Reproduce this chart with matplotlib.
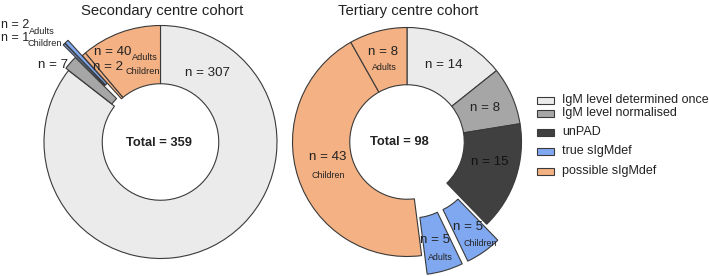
import matplotlib.pyplot as plt

plt.rcParams['font.family'] = ['Liberation Sans', 'DejaVu Sans']

# colours per category
cat_colors = {
    'once': '#ebebeb',
    'norm': '#a6a6a6',
    'unpad': '#404040',
    'true': '#80a8f0',
    'possible': '#f4b183',
}
legend_labels = ['IgM level determined once', 'IgM level normalised', 'unPAD',
                 'true sIgMdef', 'possible sIgMdef']
legend_keys = ['once', 'norm', 'unpad', 'true', 'possible']

# secondary centre cohort (clockwise from 12 o'clock)
sec_cats = ['once', 'norm', 'true', 'true', 'possible', 'possible']
sec_values = [307, 7, 1, 2, 2, 40]
sec_explode = [0, 0.03, 0.18, 0.18, 0, 0]
sec_total = 359

# tertiary centre cohort (clockwise from 12 o'clock)
ter_cats = ['once', 'norm', 'unpad', 'true', 'true', 'possible', 'possible']
ter_values = [14, 8, 15, 5, 5, 43, 8]
ter_explode = [0, 0, 0, 0.17, 0.17, 0, 0]
ter_total = 98

W, H = 709, 276
fig = plt.figure(figsize=(W / 100, H / 100), dpi=100)
ax = fig.add_axes([0, 0, 1, 1])


def donut(cats, values, explode, center, r):
    # pie offsets are not scaled with radius, so scale them here
    ax.pie(values, colors=[cat_colors[c] for c in cats], explode=[e * r for e in explode],
           startangle=90, counterclock=False, center=center, radius=r,
           wedgeprops=dict(width=r * 0.5, edgecolor='#3a3a3a', linewidth=0.8))


donut(sec_cats, sec_values, sec_explode, (160.5, H - 142), 116.5)
donut(ter_cats, ter_values, ter_explode, (407, H - 142), 114.5)

ax.set_xlim(0, W)
ax.set_ylim(0, H)
ax.set_aspect('equal')
ax.axis('off')


def t(x, y, s, size=9.6, **kw):
    ax.text(x, H - y, s, fontsize=size, ha=kw.pop('ha', 'center'), va='center',
            color=kw.pop('color', '#222222'), **kw)


# titles
t(162, 11, 'Secondary centre cohort', size=10.7)
t(408, 11, 'Tertiary centre cohort', size=10.7)
t(158.5, 143, 'Total = %d' % sec_total, size=9.3, weight='bold')
t(399, 142, 'Total = %d' % ter_total, size=9.3, weight='bold')

# secondary labels
t(207, 73, 'n = %d' % sec_values[0])
t(68, 65, 'n = %d' % sec_values[1], ha='right')
t(1, 25, 'n = %d' % sec_values[3], size=9, ha='left')
t(29, 32, 'Adults', size=6.6, ha='left')
t(1, 38, 'n = %d' % sec_values[2], size=9, ha='left')
t(28, 44, 'Children', size=6.6, ha='left')
t(131, 52, 'n = %d' % sec_values[5], ha='right')
t(132, 57, 'Adults', size=6.6, ha='left')
t(123, 67, 'n = %d' % sec_values[4], ha='right')
t(125, 72, 'Children', size=6.6, ha='left')

# tertiary labels
t(444, 65, 'n = %d' % ter_values[0])
t(485, 108, 'n = %d' % ter_values[1])
t(490, 162, 'n = %d' % ter_values[2], color='#111111')
t(468, 227, 'n = %d' % ter_values[3])
t(480, 243, 'Children', size=6.4)
t(435, 240, 'n = %d' % ter_values[4])
t(440, 258, 'Adults', size=6.4)
t(328, 157, 'n = %d' % ter_values[5])
t(328, 175, 'Children', size=6.4)
t(383, 52, 'n = %d' % ter_values[6])
t(384, 67, 'Adults', size=6.4)

# legend drawn by hand to keep the uneven row spacing
leg_y = [100, 113, 132, 151, 171]
for key, label, y in zip(legend_keys, legend_labels, leg_y):
    ax.add_patch(plt.Rectangle((537, H - y - 3.5), 17, 7, facecolor=cat_colors[key],
                               edgecolor='#3a3a3a', linewidth=0.8))
    t(562, y, label, size=9, ha='left')

fig.savefig('out.png', dpi=100)
